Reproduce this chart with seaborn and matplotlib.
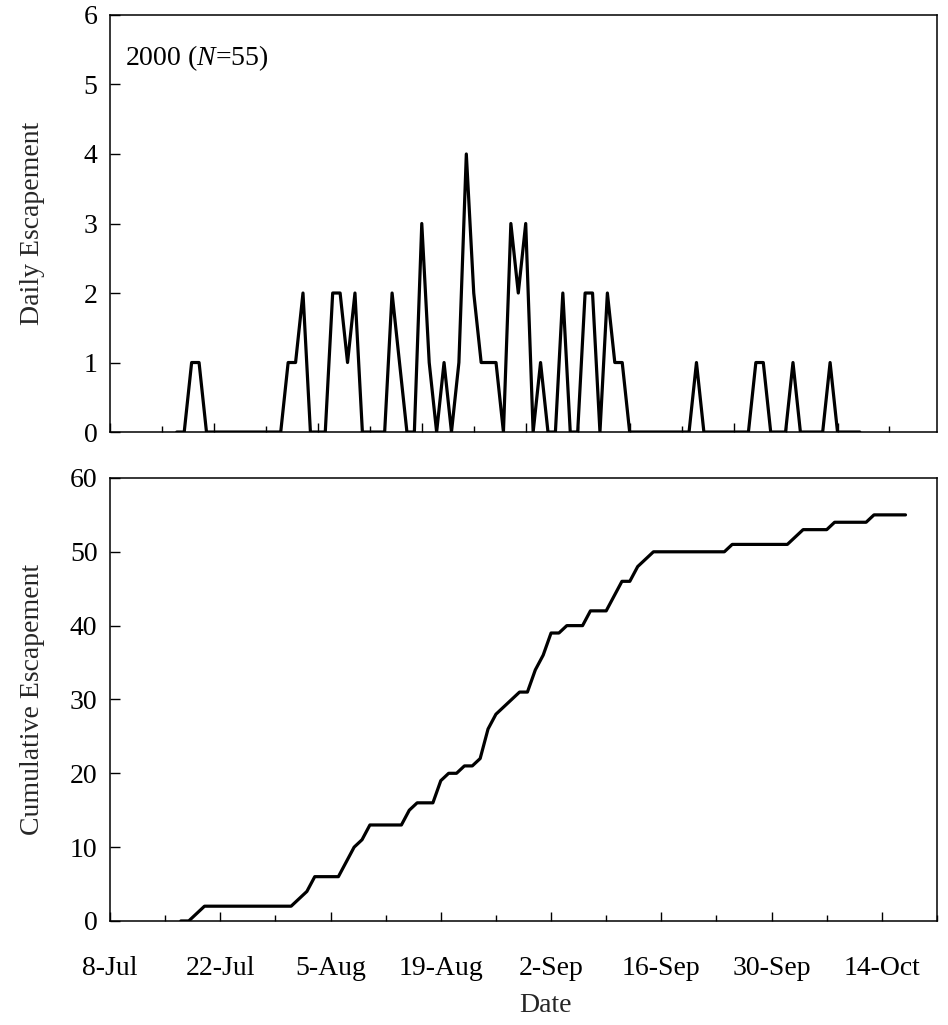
import matplotlib
matplotlib.use("Agg")
import matplotlib.pyplot as plt
import matplotlib.dates as mdates
import numpy as np
import pandas as pd
import seaborn as sns
from matplotlib.ticker import FixedLocator, FixedFormatter, NullFormatter

# ---------------- data ----------------
first_day = "2000-07-17"   # first plotted day (17-Jul)
last_day = "2000-10-17"    # last plotted day

daily = [0, 0, 1, 1, 0,
         0, 0, 0, 0, 0, 0, 0, 0, 0, 0,
         1, 1, 2, 0, 0, 0,
         2, 2, 1, 2,
         0, 0, 0, 0,
         2, 1, 0, 0,
         3, 1, 0, 1, 0,
         1, 4, 2, 1, 1, 1, 0,
         3, 2, 3, 0,
         1, 0, 0, 2, 0, 0, 2, 2, 0,
         2, 1, 1,
         0, 0, 0, 0, 0, 0, 0, 0, 0,
         1,
         0, 0, 0, 0, 0, 0, 0,
         1, 1,
         0, 0, 0,
         1,
         0, 0, 0, 0,
         1,
         0, 0, 0, 0]

cumulative = [0, 0, 1, 2, 2,
              2, 2, 2, 2, 2, 2, 2, 2, 2, 2,
              3, 4, 6, 6, 6, 6,
              8, 10, 11, 13,
              13, 13, 13, 13,
              15, 16, 16, 16,
              19, 20, 20, 21, 21,
              22, 26, 28, 29, 30, 31, 31,
              34, 36, 39, 39,
              40, 40, 40, 42, 42, 42, 44, 46, 46,
              48, 49, 50,
              50, 50, 50, 50, 50, 50, 50, 50, 50,
              51,
              51, 51, 51, 51, 51, 51, 51,
              52, 53,
              53, 53, 53,
              54,
              54, 54, 54, 54,
              55,
              55, 55, 55, 55]

tick_labels = ["8-Jul", "22-Jul", "5-Aug", "19-Aug", "2-Sep", "16-Sep", "30-Sep", "14-Oct"]
daily_yticks = [0, 1, 2, 3, 4, 5, 6]
cum_yticks = [0, 10, 20, 30, 40, 50, 60]
panel_label = r"2000 ($N$=55)"

# ---------------- styling ----------------
sns.set_theme(style="white")
plt.rcParams["font.family"] = ["Liberation Serif", "DejaVu Serif"]
plt.rcParams["mathtext.fontset"] = "custom"
plt.rcParams["mathtext.rm"] = "Liberation Serif"
plt.rcParams["mathtext.it"] = "Liberation Serif:italic"

dates = pd.date_range(first_day, last_day, freq="D")
df = pd.DataFrame({"Date": dates, "daily": daily, "cum": cumulative})

origin = pd.Timestamp("2000-07-08")
week_ticks = pd.date_range(origin, periods=17, freq="7D")
major_ticks = week_ticks[::2]
minor_ticks = week_ticks[1::2]

fig = plt.figure(figsize=(9.48, 10.25), dpi=100)
ax1 = fig.add_axes([0.1160, 0.5785, 0.8724, 0.4069])
ax2 = fig.add_axes([0.1160, 0.1015, 0.8724, 0.4322])

FS = 20
LW = 2.3

sns.lineplot(data=df, x="Date", y="daily", ax=ax1, color="black", linewidth=LW)
sns.lineplot(data=df, x="Date", y="cum", ax=ax2, color="black", linewidth=LW)

ax1.set_xlim(origin, origin + pd.Timedelta(days=111.4))
ax2.set_xlim(origin, origin + pd.Timedelta(days=105))
ax1.set_ylim(0, 6)
ax2.set_ylim(0, 60)

for ax in (ax1, ax2):
    ax.xaxis.set_major_locator(FixedLocator(mdates.date2num(major_ticks)))
    ax.xaxis.set_minor_locator(FixedLocator(mdates.date2num(minor_ticks)))
    ax.tick_params(axis="x", which="major", direction="in", length=6.5, width=1.0,
                   colors="black", labelsize=FS, pad=25, bottom=True, top=False)
    ax.tick_params(axis="x", which="minor", direction="in", length=4.3, width=1.0,
                   colors="black", bottom=True, top=False)
    ax.tick_params(axis="y", direction="in", length=7, width=1.0, colors="black",
                   labelsize=FS, pad=9, left=True, right=False)
    for sp in ax.spines.values():
        sp.set_visible(True)
        sp.set_color("black")
        sp.set_linewidth(1.1)
    ax.grid(False)

ax1.xaxis.set_major_formatter(NullFormatter())
ax1.xaxis.set_minor_formatter(NullFormatter())
ax2.xaxis.set_major_formatter(FixedFormatter(tick_labels))
ax2.xaxis.set_minor_formatter(NullFormatter())

ax1.set_yticks(daily_yticks)
ax2.set_yticks(cum_yticks)

ax1.set_xlabel("")
ax1.set_ylabel("Daily Escapement", fontsize=FS)
ax2.set_ylabel("Cumulative Escapement", fontsize=FS)
ax2.set_xlabel("Date", fontsize=FS)
ax1.yaxis.set_label_coords(-0.078, 0.5)
ax2.yaxis.set_label_coords(-0.078, 0.5)
ax2.xaxis.set_label_coords(0.526, -0.163)

ax1.text(0.018, 0.897, panel_label, transform=ax1.transAxes, fontsize=FS,
         ha="left", va="center", color="black")

fig.savefig("out.png", dpi=100)
